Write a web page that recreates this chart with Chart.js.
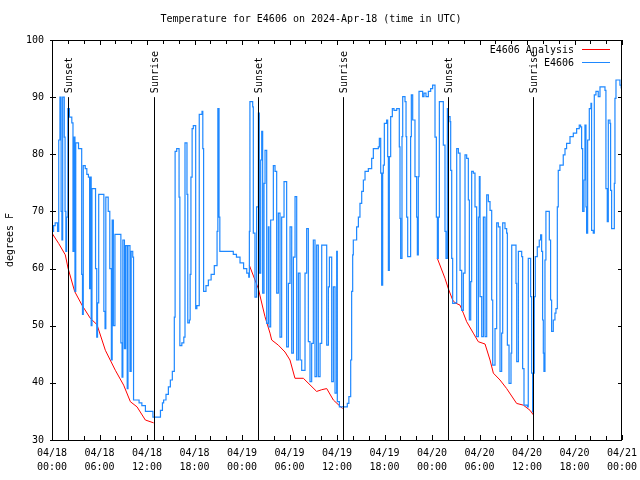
<!DOCTYPE html>
<html>
<head>
<meta charset="utf-8">
<script src="https://cdn.jsdelivr.net/npm/chart.js@4.4.1/dist/chart.umd.min.js"></script>
<style>
body{margin:0;background:#fff}
#wrap{width:640px;height:480px}
</style>
</head>
<body>
<div id="wrap"><canvas id="tempChart" width="640" height="480"></canvas></div>
<script>
// hours since 04/18 00:00 UTC
const xTickLabels = [
  ["04/18","00:00"],["04/18","06:00"],["04/18","12:00"],["04/18","18:00"],
  ["04/19","00:00"],["04/19","06:00"],["04/19","12:00"],["04/19","18:00"],
  ["04/20","00:00"],["04/20","06:00"],["04/20","12:00"],["04/20","18:00"],
  ["04/21","00:00"]
];

const eventHours = [2.02, 12.93, 26.06, 36.8, 50.06, 60.8];
const eventNames = ["Sunset","Sunrise","Sunset","Sunrise","Sunset","Sunrise"];

// E4606 Analysis [hour, degF], null = gap
const analysis = [
  [0,66.2],[0.84,64.4],[1.68,62.4],[2.02,60.1],[2.86,56],[3.79,53.6],[4.84,51.3],[5.68,50.2],
  [6.74,45.7],[8.0,42.2],[9.05,39.6],[9.9,36.7],[10.74,35.8],[11.79,33.5],[12.84,33.0],
  [18,null],
  [24.92,60.6],[26.06,56.5],[26.9,51.6],[27.54,48.7],[27.75,47.5],[28.59,46.6],[29.43,45.4],
  [30.06,44],[30.69,40.8],[31.75,40.8],[33.43,38.5],[34.07,38.8],[34.7,39],[35.54,37],[36.7,35.5],
  [42,null],
  [48.67,61.8],[49.64,58.3],[50.06,56.5],[50.61,54.5],[50.91,54],[51.54,53.6],[51.96,52.2],
  [52.38,50.7],[53.22,48.7],[53.85,47.2],[54.7,46.8],[55.33,44],[55.75,41.7],[56.59,40.5],
  [57.43,39],[58.69,36.4],[59.54,36.1],[60.38,35.2],[60.8,34.4]
];

// E4606 observations [hour, degF]
const observed = [
  [0,66.5],[0.2,67.5],[0.4,68],[0.7,66.5],[0.85,82.5],[1.0,90],[1.15,70],[1.25,65],[1.35,90],
  [1.55,83],[1.65,70],[1.75,63],[1.85,69],[2.0,88],[2.2,86.5],[2.5,85.5],[2.65,63],[2.75,83],
  [2.9,56],[3.0,82],[3.35,81],[3.65,81],[3.75,59],[3.85,52],[3.95,78],[4.2,77.5],[4.4,76.5],
  [4.6,76],[4.75,56.5],[4.85,76],[4.95,50],[5.05,74],[5.35,74],[5.5,60],[5.65,48],[5.75,54],
  [5.9,73],[6.3,73],[6.55,52.5],[6.7,49.5],[6.8,72.5],[7.1,70],[7.3,60],[7.5,44],[7.6,68.5],
  [7.75,50],[7.95,66],[8.6,66],[8.7,47],[8.85,41],[8.95,65],[9.15,46],[9.3,64],[9.5,39],
  [9.6,64],[9.85,42],[10.0,63],[10.2,62],[10.3,37],[11.0,36.5],[11.35,36],[11.8,35],[12.75,34],
  [13.7,35.2],[13.95,36.5],[14.1,37],[14.4,38],[14.7,39.3],[14.95,40.5],[15.2,42],[15.45,51.5],
  [15.55,80.5],[15.75,81],[16.05,72.5],[16.15,46.5],[16.4,47],[16.65,48],[16.8,82],[17.05,73],
  [17.15,50.5],[17.35,51],[17.45,59],[17.55,76],[17.7,84.5],[17.85,85],[18.15,53],[18.3,53.5],
  [18.6,87],[18.95,87.5],[19.05,81],[19.15,56],[19.45,57],[19.75,58],[20.1,59],[20.5,60.5],
  [20.85,66.5],[20.95,88],[21.1,69],[21.2,63],[22.7,63],[22.9,62.5],[23.3,62],[23.75,61],
  [24.2,60],[24.6,59.2],[24.85,58.5],[24.93,66.5],[25.0,89.2],[25.35,88.3],[25.43,66.2],
  [25.64,55],[25.85,70.8],[26.07,87.2],[26.19,59.2],[26.36,79],[26.49,84],[26.61,55.7],
  [26.78,74.9],[26.91,80.7],[27.12,50.4],[27.33,67.3],[27.41,49.8],[27.62,68.5],[27.96,78],
  [28.17,77],[28.38,55.7],[28.59,69.7],[28.8,48],[29.01,69],[29.31,75.2],[29.64,46.3],
  [29.86,57.4],[30.07,67.3],[30.28,45.2],[30.49,62],[30.7,72.6],[30.91,44],[31.12,59.2],
  [31.33,44],[31.54,42.2],[31.96,59.2],[32.17,67],[32.38,47.2],[32.59,40.2],[32.8,46.9],
  [33.01,65],[33.22,41.1],[33.43,64.1],[33.64,41.1],[33.86,46.9],[34.07,64.1],[34.7,46.6],
  [34.91,56.8],[35.04,62],[35.33,40.2],[35.54,56.8],[35.75,38.2],[35.96,63],[36.04,36.7],
  [36.3,35.8],[37.3,36.4],[37.5,37.6],[37.73,44],[37.85,56],[37.98,62.4],[38.06,65],
  [38.48,67.3],[38.7,69],[38.9,71.4],[39.12,73.5],[39.33,75.5],[39.54,77],[39.96,77.5],
  [40.38,79.3],[40.59,81],[41.22,81.3],[41.35,82.8],[41.52,76.7],[41.64,57.1],[41.77,76.7],
  [41.85,78.1],[41.98,85.4],[42.27,86],[42.4,79.6],[42.49,59.7],[42.61,79.6],[42.78,86.6],
  [42.99,88],[43.2,87.7],[43.54,88],[43.87,81.3],[43.96,68.8],[44.04,61.8],[44.21,83.1],
  [44.3,90.1],[44.59,89.2],[44.72,83.1],[44.8,69],[44.93,62.1],[45.3,83.1],[45.39,90.4],
  [45.56,86],[45.85,76.1],[46.06,69],[46.15,62.4],[46.27,76.1],[46.36,91],[46.82,90.1],
  [46.99,90.7],[47.24,90.1],[47.54,91],[47.83,91.5],[48.08,92.1],[48.38,83],[48.55,69],
  [48.68,61.8],[48.8,69],[48.93,89.2],[49.43,81.6],[49.64,66.5],[49.77,61.8],[49.94,88],
  [50.07,86.6],[50.28,85.7],[50.36,77.2],[50.49,61.8],[50.61,53.9],[50.91,54],[51.12,81],
  [51.33,80.2],[51.54,59.7],[51.75,52.7],[51.96,59.2],[52.17,79.9],[52.38,79.3],[52.59,72],
  [52.72,51],[52.89,57.7],[53.01,77],[53.22,76.7],[53.43,70.8],[53.64,48.1],[53.86,69],
  [53.98,76.1],[54.07,55.1],[54.28,48.1],[54.49,69],[54.7,48.1],[54.91,72.9],[55.12,71.7],
  [55.33,70.2],[55.54,54.5],[55.67,43.1],[55.96,49.5],[56.17,68],[56.38,67.3],[56.59,42],
  [56.8,48.7],[56.93,68],[57.22,67],[57.43,66.2],[57.52,46.6],[57.73,39.9],[57.98,45.2],
  [58.07,64.1],[58.61,57.4],[58.7,43.7],[58.91,63],[59.33,62.1],[59.45,42.5],[59.62,36.1],
  [60.04,35.8],[60.16,61.8],[60.46,55.1],[60.58,41.7],[60.71,34.9],[60.79,41.7],[60.92,55.1],
  [61.05,62.1],[61.3,63.8],[61.55,65],[61.72,65.9],[61.85,63],[61.97,51],[62.06,45.2],
  [62.14,42],[62.27,61.5],[62.39,70],[62.82,65],[62.98,54.5],[63.11,49],[63.32,51],
  [63.53,52.2],[63.66,53],[63.83,70.8],[63.95,77.2],[64.16,78.1],[64.58,79.9],[64.8,81],
  [65.0,81.9],[65.43,83.1],[65.85,83.7],[66.27,84.5],[66.6,85.1],[66.77,84.8],[66.9,81],
  [67.03,70],[67.2,75.5],[67.32,85.1],[67.45,70.8],[67.53,66.2],[67.66,82.5],[67.87,88],
  [68.08,88.9],[68.16,66.7],[68.37,66.2],[68.5,90.4],[68.71,91],[69.0,90.1],[69.22,91.8],
  [69.85,91.2],[69.97,74],[70.14,68.2],[70.27,86],[70.48,85.4],[70.56,73.7],[70.69,67],
  [71.03,74.9],[71.11,89.8],[71.24,93],[71.74,92.1],[71.9,91.5]
];

const FONT = "'DejaVu Sans Mono', 'Liberation Mono', monospace";
Chart.defaults.font.family = FONT;
Chart.defaults.font.size = 10;
Chart.defaults.color = "#000";

const toXY = arr => arr.map(p => ({x: p[0], y: p[1]}));

// gnuplot style frame: inward ticks on all four sides, sun events, key
const gnuplotFrame = {
  id: "gnuplotFrame",
  afterDatasetsDraw(chart) {
    const {ctx, chartArea: a, scales: {x, y}} = chart;
    ctx.save();
    ctx.strokeStyle = "#000";
    ctx.lineWidth = 1;
    ctx.beginPath();
    x.ticks.forEach(t => {
      const px = Math.round(x.getPixelForValue(t.value)) + 0.5;
      const len = t.value % 6 === 0 ? 5 : 4;
      ctx.moveTo(px, a.bottom); ctx.lineTo(px, a.bottom - len);
      ctx.moveTo(px, a.top); ctx.lineTo(px, a.top + len);
    });
    y.ticks.forEach(t => {
      const py = Math.round(y.getPixelForValue(t.value)) + 0.5;
      ctx.moveTo(a.left - 2, py); ctx.lineTo(a.left + 4, py);
      ctx.moveTo(a.right, py); ctx.lineTo(a.right - 4, py);
    });
    // sunset / sunrise markers from 90 F down to the axis
    eventHours.forEach(h => {
      const px = Math.round(x.getPixelForValue(h)) + 0.5;
      ctx.moveTo(px, y.getPixelForValue(90));
      ctx.lineTo(px, y.getPixelForValue(30));
    });
    ctx.stroke();
    ctx.strokeRect(a.left + 0.5, a.top + 0.5, a.right - a.left - 1, a.bottom - a.top);

    ctx.fillStyle = "#000";
    ctx.font = "10px " + FONT;
    ctx.textBaseline = "middle";
    eventHours.forEach((h, i) => {
      const px = Math.round(x.getPixelForValue(h)) + 1;
      ctx.save();
      ctx.translate(px, y.getPixelForValue(90) - 4);
      ctx.rotate(-Math.PI / 2);
      ctx.textAlign = "left";
      ctx.fillText(eventNames[i], 0, 0);
      ctx.restore();
    });

    // key
    ctx.textAlign = "right";
    chart.data.datasets.forEach((ds, i) => {
      const ty = 50 + i * 13;
      ctx.fillStyle = "#000";
      ctx.fillText(ds.label, 574, ty);
      ctx.strokeStyle = ds.borderColor;
      ctx.beginPath();
      ctx.moveTo(582, ty - 0.5);
      ctx.lineTo(610, ty - 0.5);
      ctx.stroke();
    });
    ctx.restore();
  }
};

new Chart(document.getElementById("tempChart"), {
  type: "line",
  data: {
    datasets: [
      {
        label: "E4606 Analysis",
        data: toXY(analysis),
        borderColor: "#ff0000",
        borderWidth: 1,
        pointRadius: 0,
        tension: 0,
        order: 2
      },
      {
        label: "E4606",
        data: toXY(observed),
        borderColor: "#1e88ff",
        borderWidth: 1.2,
        pointRadius: 0,
        stepped: true,
        order: 1
      }
    ]
  },
  options: {
    responsive: false,
    animation: false,
    events: [],
    layout: {padding: {left: 0, right: 18, top: 0, bottom: 0}},
    plugins: {
      legend: {display: false},
      tooltip: {enabled: false},
      title: {
        display: true,
        text: "Temperature for E4606 on 2024-Apr-18 (time in UTC)",
        color: "#000",
        font: {size: 10, weight: "normal", lineHeight: "14px"},
        padding: {top: 12, bottom: 14}
      }
    },
    scales: {
      x: {
        type: "linear",
        min: 0,
        max: 72,
        grid: {display: false, drawTicks: false},
        border: {display: false},
        ticks: {
          stepSize: 2,
          autoSkip: false,
          maxRotation: 0,
          minRotation: 0,
          padding: 6,
          font: {size: 10, lineHeight: "14px"},
          callback: v => (v % 6 === 0 ? xTickLabels[v / 6] : "")
        },
        afterFit: s => { s.height = 40; s.paddingLeft = 0; s.paddingRight = 0; }
      },
      y: {
        min: 30,
        max: 100,
        grid: {display: false, drawTicks: false},
        border: {display: false},
        ticks: {stepSize: 10, padding: 8, font: {size: 10}},
        title: {
          display: true,
          text: "degrees F",
          font: {size: 10, lineHeight: "14px"},
          padding: {top: 3, bottom: 0}
        },
        afterFit: s => { s.width = 52; }
      }
    }
  },
  plugins: [gnuplotFrame]
});
</script>
</body>
</html>
